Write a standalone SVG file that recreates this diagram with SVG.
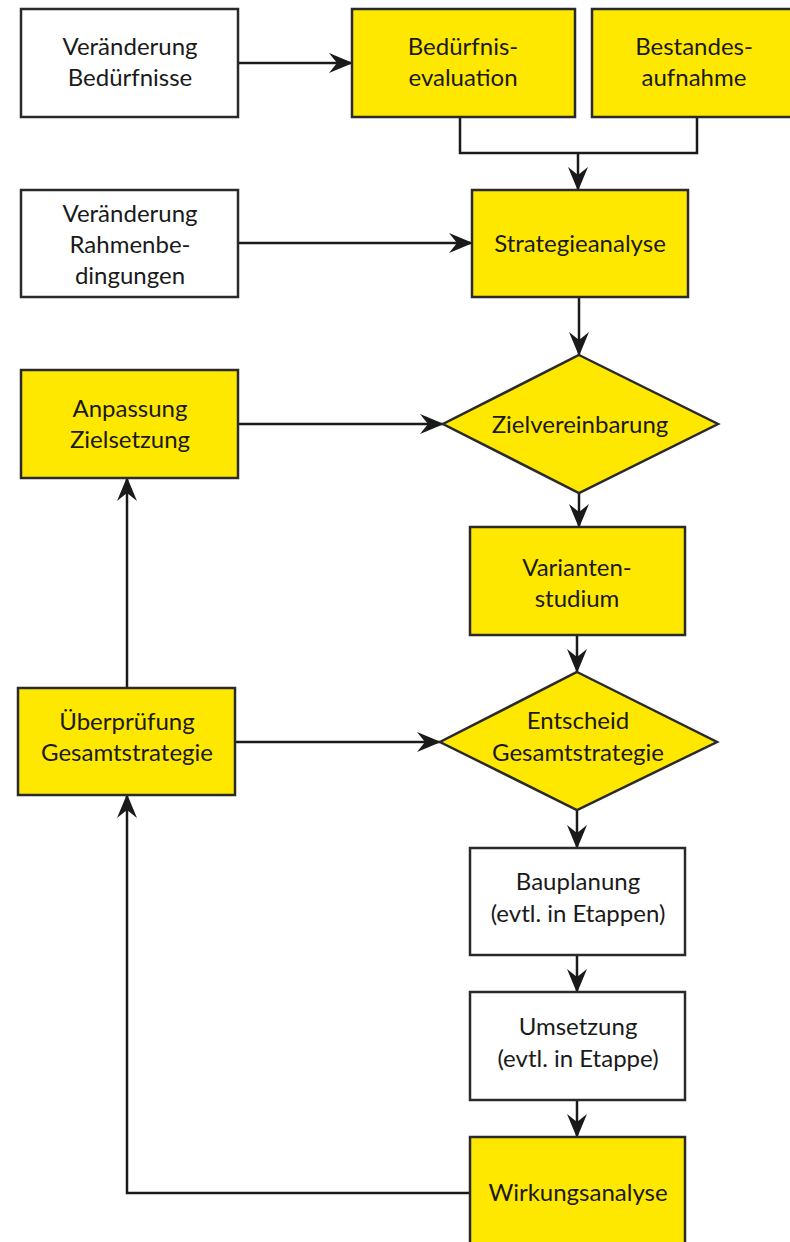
<svg xmlns="http://www.w3.org/2000/svg" width="790" height="1242" viewBox="0 0 790 1242">
<style>
.w{fill:#ffffff;stroke:#2a2a2a;stroke-width:2.5}
.y{fill:#ffe800;stroke:#2a2a2a;stroke-width:2.5}
.t{font-family:Lato,"Liberation Sans",sans-serif;font-size:24px;fill:#1a1a1a;text-anchor:middle}
.c{fill:none;stroke:#1a1a1a;stroke-width:2.5}
.a{marker-end:url(#ah)}
</style>
<defs>
<marker id="ah" viewBox="0 0 24 20" refX="23" refY="10" markerWidth="24" markerHeight="20" markerUnits="userSpaceOnUse" orient="auto">
<path d="M0,0 L24,10 L0,20 L8,10 z" fill="#1a1a1a"/>
</marker>
</defs>
<rect width="790" height="1242" fill="#ffffff"/>
<g id="connectors">
<line class="c a" x1="238" y1="63" x2="352" y2="63"/>
<polyline class="c" points="460,117 460,153 697,153 697,117"/>
<line class="c a" x1="578" y1="153" x2="578" y2="190"/>
<line class="c a" x1="238" y1="243" x2="472" y2="243"/>
<line class="c a" x1="579" y1="297" x2="579" y2="355"/>
<line class="c a" x1="238" y1="424" x2="443" y2="424"/>
<line class="c a" x1="579" y1="493" x2="579" y2="527"/>
<line class="c a" x1="577" y1="635" x2="577" y2="672"/>
<line class="c a" x1="127" y1="688" x2="127" y2="478"/>
<line class="c a" x1="235" y1="742" x2="440" y2="742"/>
<line class="c a" x1="577" y1="810" x2="577" y2="848"/>
<line class="c a" x1="577" y1="955" x2="577" y2="992"/>
<line class="c a" x1="577" y1="1100" x2="577" y2="1137"/>
<polyline class="c a" points="470,1193 127,1193 127,795"/>
</g>
<g id="n1"><rect class="w" x="21" y="9" width="217" height="108"/>
<text class="t" x="130" y="55">Veränderung</text><text class="t" x="130" y="86">Bedürfnisse</text></g>
<g id="n2"><rect class="y" x="352" y="9" width="223" height="108"/>
<text class="t" x="463" y="55">Bedürfnis-</text><text class="t" x="463" y="86">evaluation</text></g>
<g id="n3"><rect class="y" x="592" y="9" width="210" height="108"/>
<text class="t" x="694" y="55">Bestandes-</text><text class="t" x="694" y="86">aufnahme</text></g>
<g id="n4"><rect class="w" x="21" y="190" width="217" height="107"/>
<text class="t" x="130" y="222">Veränderung</text><text class="t" x="130" y="253">Rahmenbe-</text><text class="t" x="130" y="284">dingungen</text></g>
<g id="n5"><rect class="y" x="472" y="190" width="216" height="107"/>
<text class="t" x="580" y="252">Strategieanalyse</text></g>
<g id="n6"><rect class="y" x="21" y="370" width="217" height="108"/>
<text class="t" x="130" y="417">Anpassung</text><text class="t" x="130" y="448">Zielsetzung</text></g>
<g id="n7"><polygon class="y" points="579,355 718,424 579,493 443,424"/>
<text class="t" x="580" y="433">Zielvereinbarung</text></g>
<g id="n8"><rect class="y" x="470" y="527" width="215" height="108"/>
<text class="t" x="577" y="576">Varianten-</text><text class="t" x="577" y="607">studium</text></g>
<g id="n9"><rect class="y" x="18" y="688" width="217" height="107"/>
<text class="t" x="127" y="730">Überprüfung</text><text class="t" x="127" y="761">Gesamtstrategie</text></g>
<g id="n10"><polygon class="y" points="577,672 717,742 577,810 440,742"/>
<text class="t" x="578" y="729">Entscheid</text><text class="t" x="578" y="761">Gesamtstrategie</text></g>
<g id="n11"><rect class="w" x="470" y="848" width="215" height="107"/>
<text class="t" x="578" y="890">Bauplanung</text><text class="t" x="578" y="922">(evtl. in Etappen)</text></g>
<g id="n12"><rect class="w" x="470" y="992" width="215" height="108"/>
<text class="t" x="578" y="1035">Umsetzung</text><text class="t" x="578" y="1067">(evtl. in Etappe)</text></g>
<g id="n13"><rect class="y" x="470" y="1137" width="215" height="120"/>
<text class="t" x="578" y="1201">Wirkungsanalyse</text></g>
</svg>
